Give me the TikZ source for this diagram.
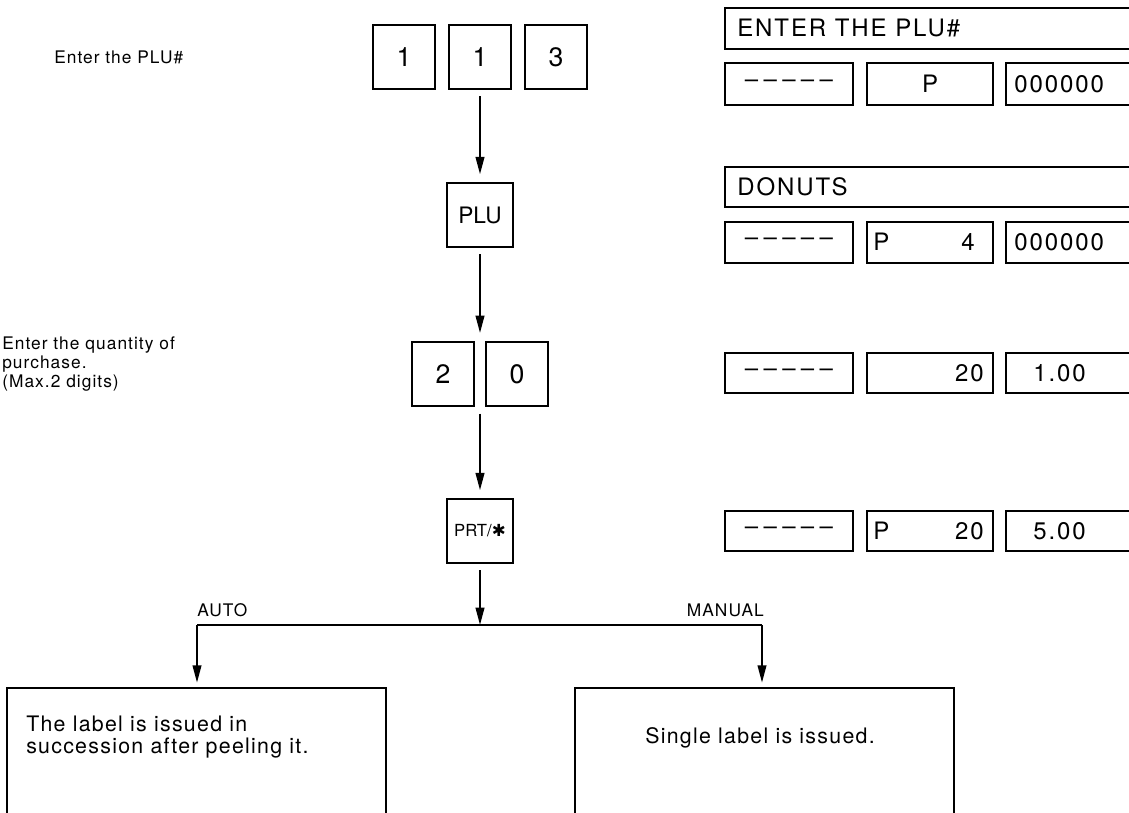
\documentclass[tikz,border=0pt]{standalone}
\usepackage{fontspec}
\setmainfont{TeX Gyre Heros}
\newfontfamily\spfont[LetterSpace=6]{TeX Gyre Heros}
\newfontfamily\dispfont[LetterSpace=8]{TeX Gyre Heros}
\newfontfamily\symfont{DejaVu Sans}
\usetikzlibrary{arrows.meta,fit}
\newcommand\dashrow{–\hspace{4pt}–\hspace{4pt}–\hspace{4pt}–\hspace{4pt}–}
\begin{document}
\begin{tikzpicture}[x=0.75pt,y=-0.75pt,
  key/.style={draw,line width=1.1pt,minimum width=46.5pt,minimum height=48pt,inner sep=0pt,font=\fontsize{20}{20}\selectfont},
  disp/.style={draw,line width=1.5pt},
  dtext/.style={inner sep=0pt,font=\dispfont\fontsize{18}{18}\selectfont},
  lab/.style={inner sep=0pt,font=\spfont\fontsize{13}{14}\selectfont,align=left},
  big/.style={inner sep=0pt,font=\spfont\fontsize{16}{16.5}\selectfont,align=left},
  arr/.style={line width=1.4pt,-{Triangle[length=13pt,width=6.5pt]}},
  ln/.style={line width=1.4pt},
  res/.style={line width=1.1pt}
]
\useasboundingbox (0,0) rectangle (1129,813);
\clip (0,0) rectangle (1129,813);

% left labels
\node[lab,anchor=west] (l1) at (54,57) {Enter the PLU\#};
\node[lab,anchor=west] (l2) at (2,364) {Enter the quantity of\\purchase.\\(Max.2 digits)};

% keys
\node[key] (k1) at (404,57) {1};
\node[key] (k2) at (480,57) {1};
\node[key] (k3) at (556,57) {3};
\node[key,minimum width=49.5pt,font=\fontsize{17}{17}\selectfont] (plu) at (480,215) {PLU};
\node[key] (k4) at (443,374) {2};
\node[key] (k5) at (517,374) {0};
\node[fit=(k4)(k5),inner sep=0pt] (pair) {};
\node[key,minimum width=49.5pt,font=\fontsize{12.5}{12.5}\selectfont] (prt) at (480,531) {PRT/{\symfont ✱}};

% arrows
\draw[arr,shorten <=5pt,shorten >=6pt] (k2) -- (plu);
\draw[arr,shorten <=5pt,shorten >=6pt] (plu) -- (pair);
\draw[arr,shorten <=5pt,shorten >=6pt] (pair) -- (prt);
\coordinate (br) at (480,625);
\coordinate (bl) at (197,625);
\coordinate (brr) at (762,625);
\coordinate (at) at (197,688);
\coordinate (mt) at (762,688);
\draw[arr,shorten <=5pt] (prt) -- (br);
\draw[ln] (bl) -- (brr);
\draw[arr,shorten >=4pt] (bl) -- (at);
\draw[arr,shorten >=4pt] (brr) -- (mt);
\node[lab,anchor=base west] (auto) at (197,616) {AUTO};
\node[lab,anchor=base east] (man) at (764,616) {MANUAL};

% result boxes (open at bottom)
\draw[res] (7,813) -- (7,688) -- (386,688) -- (386,813);
\draw[res] (575,813) -- (575,688) -- (954,688) -- (954,813);
\node[big,anchor=west] (t1) at (26,737) {The label is issued in\\succession after peeling it.};
\node[big] (t2) at (760,738) {Single label is issued.};

% displays
\draw[disp] (725,8) rectangle (1140,49);
\node[dtext,anchor=west] (d1) at (737,28) {ENTER THE PLU\#};
\draw[disp] (725,63) rectangle (853,105);
\draw[disp] (867,63) rectangle (993,105);
\draw[disp] (1006,63) rectangle (1140,105);
\node[dtext] (d1a) at (789,84) {\dashrow};
\node[dtext] (d1b) at (930,84) {P};
\node[dtext,anchor=west] (d1c) at (1014,84) {000000};

\draw[disp] (725,167) rectangle (1140,207);
\node[dtext,anchor=west] (d2) at (737,187) {DONUTS};
\draw[disp] (725,222) rectangle (853,263);
\draw[disp] (867,222) rectangle (993,263);
\draw[disp] (1006,222) rectangle (1140,263);
\node[dtext] (d2a) at (789,242) {\dashrow};
\node[dtext,anchor=west] (d2b) at (873,242) {P};
\node[dtext,anchor=east] (d2c) at (975,242) {4};
\node[dtext,anchor=west] (d2d) at (1014,242) {000000};

\draw[disp] (725,353) rectangle (853,393);
\draw[disp] (867,353) rectangle (993,393);
\draw[disp] (1006,353) rectangle (1140,393);
\node[dtext] (d3a) at (789,373) {\dashrow};
\node[dtext,anchor=east] (d3b) at (984,373) {20};
\node[dtext,anchor=west] (d3c) at (1033,373) {1.00};

\draw[disp] (725,511) rectangle (853,551);
\draw[disp] (867,511) rectangle (993,551);
\draw[disp] (1006,511) rectangle (1140,551);
\node[dtext] (d4a) at (789,531) {\dashrow};
\node[dtext,anchor=west] (d4b) at (873,531) {P};
\node[dtext,anchor=east] (d4c) at (984,531) {20};
\node[dtext,anchor=west] (d4d) at (1033,531) {5.00};
\end{tikzpicture}
\end{document}
